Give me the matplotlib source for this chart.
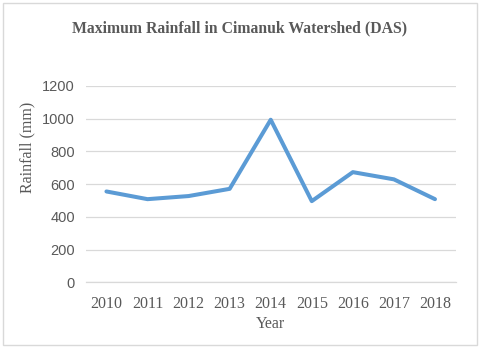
import matplotlib
matplotlib.use("Agg")
import matplotlib.pyplot as plt
from matplotlib.patches import Rectangle

# Data
years = ["2010", "2011", "2012", "2013", "2014", "2015", "2016", "2017", "2018"]
rainfall = [555, 508, 527, 571, 993, 496, 673, 629, 508]
yticks = [0, 200, 400, 600, 800, 1000, 1200]

plt.rcParams["font.family"] = ["Liberation Serif", "DejaVu Serif"]
text_color = "#595959"

fig = plt.figure(figsize=(4.8, 3.49), dpi=100)
ax = fig.add_axes([0.179, 0.191, 0.770, 0.563])

# outer chart border
fig.patches.append(Rectangle((0.006, 0.012), 0.988, 0.978, transform=fig.transFigure,
                             fill=False, edgecolor="#D9D9D9", linewidth=1.0))

x = range(len(years))
ax.plot(x, rainfall, color="#5B9BD5", linewidth=2.9, solid_joinstyle="round",
        solid_capstyle="round", zorder=3)

ax.set_xlim(-0.5, len(years) - 0.5)
ax.set_ylim(0, 1200)
ax.set_yticks(yticks)
ax.set_xticks(list(x))
ax.set_xticklabels(years)
ax.yaxis.grid(True, color="#D9D9D9", linewidth=0.9)
ax.set_axisbelow(True)
for s in ["top", "right", "left"]:
    ax.spines[s].set_visible(False)
ax.spines["bottom"].set_color("#D9D9D9")
ax.spines["bottom"].set_linewidth(0.9)
ax.tick_params(length=0, colors=text_color)
ax.tick_params(axis="x", labelsize=11.5, pad=10)
ax.tick_params(axis="y", labelsize=10.5, pad=8)
for lbl in ax.get_yticklabels():
    lbl.set_fontfamily("Liberation Sans")

ax.set_xlabel("Year", fontsize=11.5, color=text_color, labelpad=3)
ax.set_ylabel("Rainfall (mm)", fontsize=11.5, color=text_color)
ax.yaxis.set_label_coords(-0.136, 0.688)
fig.text(0.5, 0.918, "Maximum Rainfall in Cimanuk Watershed (DAS)", ha="center", va="center",
         fontsize=11.3, fontweight="bold", color=text_color)

fig.savefig("out.png", dpi=100)
